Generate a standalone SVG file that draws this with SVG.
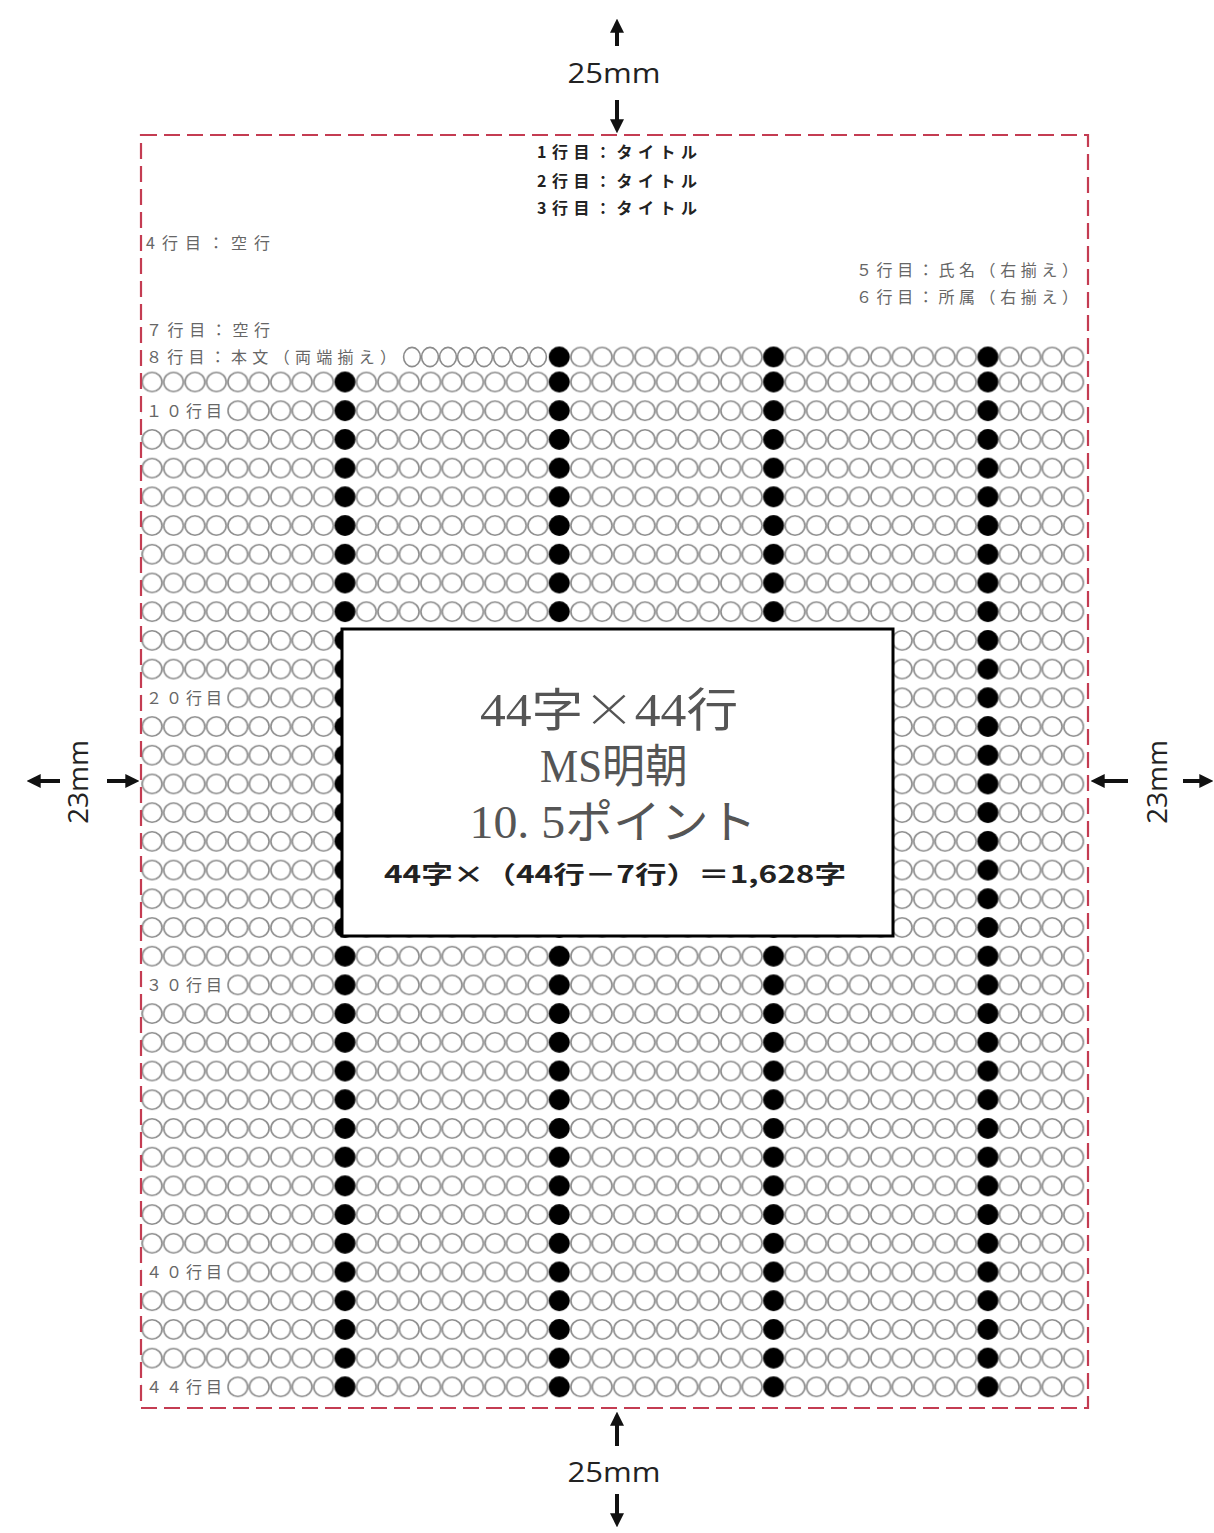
<svg xmlns="http://www.w3.org/2000/svg" width="1214" height="1533" viewBox="0 0 1214 1533">
<style>
.lbl{font-family:"Noto Sans CJK JP","Noto Sans",sans-serif;font-size:16px;fill:#666}
.ttl{font-family:"Noto Sans CJK JP","Noto Sans",sans-serif;font-size:16px;font-weight:bold;fill:#222}
.mm{font-family:"Open Sans","Noto Sans",sans-serif;font-size:28px;fill:#222}
.big{font-family:"Liberation Serif","Noto Sans CJK JP",serif;font-size:46px;fill:#555}
.cjk{font-family:"Noto Sans CJK JP",sans-serif;font-weight:300}
.calc{font-family:"Noto Sans CJK JP","Noto Sans",sans-serif;font-size:24px;font-weight:bold;fill:#222}
.cover{fill:#fff}
.sq{fill:#fff;stroke:#8c8c8c;stroke-width:1.6}
.arr{stroke:#111;stroke-width:4;fill:none;marker-end:url(#ah)}
</style>
<defs>
<marker id="ah" viewBox="0 0 12 12" refX="4" refY="6" markerWidth="14" markerHeight="14" markerUnits="userSpaceOnUse" orient="auto">
<path d="M0,0 L12,6 L0,12 z" fill="#111"/>
</marker>
<pattern id="po" patternUnits="userSpaceOnUse" x="141.4" y="367.645" width="21.43" height="28.71">
<ellipse cx="10.715" cy="14.355" rx="9.8" ry="9.6" fill="#fff" stroke="#8c8c8c" stroke-width="1.6"/>
</pattern>
<pattern id="pf" patternUnits="userSpaceOnUse" x="141.4" y="367.645" width="214.3" height="28.71">
<circle cx="203.585" cy="14.355" r="10.3" fill="#000"/>
</pattern>
<pattern id="po8" patternUnits="userSpaceOnUse" x="141.4" y="342.645" width="21.43" height="28.71">
<ellipse cx="10.715" cy="14.355" rx="9.8" ry="9.6" fill="#fff" stroke="#8c8c8c" stroke-width="1.6"/>
</pattern>
<pattern id="pf8" patternUnits="userSpaceOnUse" x="141.4" y="342.645" width="214.3" height="28.71">
<circle cx="203.585" cy="14.355" r="10.3" fill="#000"/>
</pattern>
</defs>
<rect width="1214" height="1533" fill="#fff"/>

<g id="grid">
<rect x="141.4" y="367.645" width="942.92" height="1033.56" fill="url(#po)"/>
<rect x="141.4" y="367.645" width="942.92" height="1033.56" fill="url(#pf)"/>
<rect x="548.57" y="342.645" width="535.75" height="25" fill="url(#po8)"/>
<rect x="548.57" y="342.645" width="535.75" height="25" fill="url(#pf8)"/>
<g id="row8-lead">
<ellipse class="sq" cx="412" cy="357" rx="8.4" ry="9.6"/>
<ellipse class="sq" cx="430" cy="357" rx="8.4" ry="9.6"/>
<ellipse class="sq" cx="448" cy="357" rx="8.4" ry="9.6"/>
<ellipse class="sq" cx="466" cy="357" rx="8.4" ry="9.6"/>
<ellipse class="sq" cx="484" cy="357" rx="8.4" ry="9.6"/>
<ellipse class="sq" cx="502" cy="357" rx="8.4" ry="9.6"/>
<ellipse class="sq" cx="520" cy="357" rx="8.4" ry="9.6"/>
<ellipse class="sq" cx="538" cy="357" rx="8.4" ry="9.6"/>
</g>
<rect class="cover" x="141.4" y="396.36" width="85.72" height="28.71"/>
<rect class="cover" x="141.4" y="683.46" width="85.72" height="28.71"/>
<rect class="cover" x="141.4" y="970.56" width="85.72" height="28.71"/>
<rect class="cover" x="141.4" y="1257.66" width="85.72" height="28.71"/>
<rect class="cover" x="141.4" y="1372.5" width="85.72" height="28.71"/>
</g>

<g id="line-labels">
<text class="ttl" x="617" y="158" text-anchor="middle" textLength="160" lengthAdjust="spacing">1行目：タイトル</text>
<text class="ttl" x="617" y="187" text-anchor="middle" textLength="160" lengthAdjust="spacing">2行目：タイトル</text>
<text class="ttl" x="617" y="214" text-anchor="middle" textLength="160" lengthAdjust="spacing">3行目：タイトル</text>
<text class="lbl" x="146" y="249" textLength="124" lengthAdjust="spacing">4行目：空行</text>
<text class="lbl" x="1078" y="276" text-anchor="end" textLength="222" lengthAdjust="spacing">５行目：氏名（右揃え）</text>
<text class="lbl" x="1078" y="303" text-anchor="end" textLength="222" lengthAdjust="spacing">６行目：所属（右揃え）</text>
<text class="lbl" x="146" y="336" textLength="124" lengthAdjust="spacing">７行目：空行</text>
<text class="lbl" x="146" y="363" textLength="250" lengthAdjust="spacing">８行目：本文（両端揃え）</text>
<text class="lbl" x="146" y="416.5" textLength="76" lengthAdjust="spacing">１０行目</text>
<text class="lbl" x="146" y="703.6" textLength="76" lengthAdjust="spacing">２０行目</text>
<text class="lbl" x="146" y="990.7" textLength="76" lengthAdjust="spacing">３０行目</text>
<text class="lbl" x="146" y="1277.8" textLength="76" lengthAdjust="spacing">４０行目</text>
<text class="lbl" x="146" y="1392.7" textLength="76" lengthAdjust="spacing">４４行目</text>
</g>

<g id="info-box">
<rect x="342" y="629" width="551" height="307" fill="#fff" stroke="#000" stroke-width="3"/>
<text class="big" x="609" y="726" text-anchor="middle" textLength="258" lengthAdjust="spacingAndGlyphs">44字<tspan class="cjk">×</tspan>44行</text>
<text class="big" x="614" y="782" text-anchor="middle" textLength="148" lengthAdjust="spacingAndGlyphs">MS明朝</text>
<text class="big" x="613" y="838" text-anchor="middle" textLength="287" lengthAdjust="spacingAndGlyphs">10. 5ポイント</text>
<text class="calc" x="615" y="883" text-anchor="middle" textLength="462" lengthAdjust="spacingAndGlyphs">44字×（44行－7行）＝1,628字</text>
</g>

<g id="frame">
<rect x="141" y="135" width="947" height="1273" fill="none" stroke="#c43c52" stroke-width="2.2" stroke-dasharray="16 7"/>
</g>

<g id="connectors">
<line class="arr" x1="617" y1="46" x2="617" y2="28"/>
<line class="arr" x1="617" y1="100" x2="617" y2="124"/>
<line class="arr" x1="617" y1="1446" x2="617" y2="1421"/>
<line class="arr" x1="617" y1="1494" x2="617" y2="1518"/>
<line class="arr" x1="60" y1="781" x2="36" y2="781"/>
<line class="arr" x1="107" y1="781" x2="130" y2="781"/>
<line class="arr" x1="1128" y1="781" x2="1100" y2="781"/>
<line class="arr" x1="1183" y1="781" x2="1204" y2="781"/>
</g>

<g id="dimension-labels">
<text class="mm" x="614" y="83" text-anchor="middle" textLength="93" lengthAdjust="spacingAndGlyphs">25mm</text>
<text class="mm" x="614" y="1482" text-anchor="middle" textLength="93" lengthAdjust="spacingAndGlyphs">25mm</text>
<text class="mm" transform="translate(88,782) rotate(-90)" x="0" y="0" text-anchor="middle" textLength="84" lengthAdjust="spacingAndGlyphs">23mm</text>
<text class="mm" transform="translate(1167,782) rotate(-90)" x="0" y="0" text-anchor="middle" textLength="84" lengthAdjust="spacingAndGlyphs">23mm</text>
</g>
</svg>
